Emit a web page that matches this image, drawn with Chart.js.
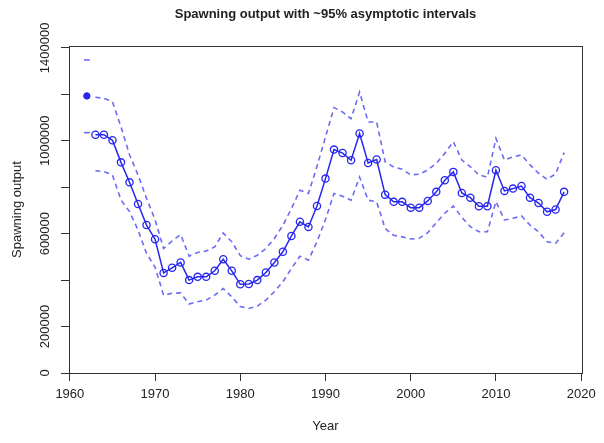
<!DOCTYPE html>
<html>
<head>
<meta charset="utf-8">
<script src="https://cdn.jsdelivr.net/npm/chart.js@4.4.1/dist/chart.umd.min.js"></script>
<style>
  html, body { margin: 0; padding: 0; background: #fff; }
  #wrap { width: 604px; height: 443px; position: relative; }
</style>
</head>
<body>
<div id="wrap"><canvas id="spawn"></canvas></div>
<script>
// Spawning output time series with ~95% asymptotic intervals

const years = [
  1963, 1964, 1965, 1966, 1967, 1968, 1969, 1970, 1971, 1972,
  1973, 1974, 1975, 1976, 1977, 1978, 1979, 1980, 1981, 1982,
  1983, 1984, 1985, 1986, 1987, 1988, 1989, 1990, 1991, 1992,
  1993, 1994, 1995, 1996, 1997, 1998, 1999, 2000, 2001, 2002,
  2003, 2004, 2005, 2006, 2007, 2008, 2009, 2010, 2011, 2012,
  2013, 2014, 2015, 2016, 2017, 2018
];

const spawnOutput = [
  1026000, 1026000, 1002000, 907000, 821000, 728000, 637000, 576000, 431000, 453000,
  476000, 400000, 414000, 414000, 440000, 490000, 440000, 382000, 383000, 400000,
  433000, 476000, 522000, 590000, 651000, 629000, 719000, 837000, 962000, 947000,
  916000, 1031000, 904000, 919000, 768000, 737000, 737000, 712000, 712000, 741000,
  780000, 830000, 866000, 775000, 755000, 718000, 718000, 873000, 784000, 794000,
  805000, 755000, 732000, 694000, 704000, 780000
];

const upperCI = [
  1187000, 1183000, 1168000, 1060000, 940000, 853000, 752000, 660000, 536000, 569000,
  596000, 503000, 519000, 525000, 543000, 603000, 565000, 505000, 490000, 507000,
  536000, 579000, 636000, 708000, 787000, 773000, 890000, 1016000, 1143000, 1124000,
  1095000, 1210000, 1081000, 1081000, 909000, 887000, 877000, 853000, 856000, 874000,
  903000, 946000, 996000, 917000, 888000, 853000, 843000, 1010000, 917000, 931000,
  939000, 896000, 860000, 834000, 857000, 949000
];

const lowerCI = [
  871000, 867000, 853000, 745000, 695000, 616000, 515000, 455000, 335000, 343000,
  345000, 297000, 307000, 314000, 335000, 364000, 328000, 286000, 278000, 288000,
  314000, 350000, 393000, 450000, 503000, 486000, 565000, 661000, 773000, 761000,
  744000, 844000, 744000, 737000, 622000, 593000, 586000, 577000, 580000, 604000,
  647000, 688000, 719000, 670000, 630000, 608000, 608000, 738000, 659000, 666000,
  676000, 637000, 608000, 565000, 558000, 604000
];

// unfished (virgin) level and its interval
const virginYear = 1962;
const virginValue = 1193000;
const virginUpper = 1348000;
const virginLower = 1035000;

const xTickValues = [1960, 1970, 1980, 1990, 2000, 2010, 2020];
const yTickValues = [0, 200000, 400000, 600000, 800000, 1000000, 1200000, 1400000];
// only every other label fits along the y axis
const yLabelValues = [0, 200000, 600000, 1000000, 1400000];

const LINE_BLUE = 'rgb(38, 38, 240)';
const CI_BLUE = 'rgba(70, 70, 245, 0.8)';
const FONT = '"Liberation Sans", Arial, sans-serif';

const toPoints = (xs, ys) => xs.map((yr, i) => ({ x: yr, y: ys[i] }));

// frame, tick labels and titles drawn in base-graphics style
const frameText = {
  id: 'frameText',
  afterDraw(chart) {
    const { ctx, chartArea: a, scales: { x, y } } = chart;
    ctx.save();
    ctx.strokeStyle = '#333';
    ctx.lineWidth = 1;
    ctx.strokeRect(Math.round(a.left) + 0.5, Math.round(a.top) + 0.5,
      Math.round(a.right - a.left), Math.round(a.bottom - a.top));

    ctx.fillStyle = '#222';
    ctx.textAlign = 'center';
    ctx.textBaseline = 'middle';
    ctx.font = '13px ' + FONT;
    x.ticks.forEach(t => {
      ctx.fillText(String(t.value), x.getPixelForValue(t.value), a.bottom + 21);
    });
    yLabelValues.forEach(v => {
      ctx.save();
      ctx.translate(a.left - 24, y.getPixelForValue(v));
      ctx.rotate(-Math.PI / 2);
      ctx.fillText(String(v), 0, 0);
      ctx.restore();
    });

    const midX = (a.left + a.right) / 2;
    ctx.fillText('Year', midX, a.bottom + 53);
    ctx.save();
    ctx.translate(17, (a.top + a.bottom) / 2);
    ctx.rotate(-Math.PI / 2);
    ctx.fillText('Spawning output', 0, 0);
    ctx.restore();

    ctx.font = 'bold 13px ' + FONT;
    ctx.fillText('Spawning output with ~95% asymptotic intervals', midX, 14);
    ctx.restore();
  }
};

const axisGrid = {
  display: true,
  drawOnChartArea: false,
  drawTicks: true,
  tickLength: 8,
  tickColor: '#333',
  lineWidth: 1
};

new Chart(document.getElementById('spawn'), {
  type: 'line',
  data: {
    datasets: [
      {
        label: 'upper',
        data: toPoints(years, upperCI),
        borderColor: CI_BLUE,
        borderWidth: 1.6,
        borderDash: [5, 4],
        pointRadius: 0,
        tension: 0
      },
      {
        label: 'lower',
        data: toPoints(years, lowerCI),
        borderColor: CI_BLUE,
        borderWidth: 1.6,
        borderDash: [5, 4],
        pointRadius: 0,
        tension: 0
      },
      {
        label: 'spawning output',
        data: toPoints(years, spawnOutput),
        borderColor: LINE_BLUE,
        borderWidth: 1.5,
        pointStyle: 'circle',
        pointRadius: 3.6,
        pointBorderWidth: 1.3,
        pointBorderColor: LINE_BLUE,
        pointBackgroundColor: 'rgba(0,0,0,0)',
        tension: 0
      },
      {
        label: 'virgin',
        data: [{ x: virginYear, y: virginValue }],
        showLine: false,
        pointStyle: 'circle',
        pointRadius: 3.2,
        pointBorderWidth: 1,
        pointBorderColor: LINE_BLUE,
        pointBackgroundColor: LINE_BLUE
      },
      {
        label: 'virgin interval',
        data: [{ x: virginYear, y: virginUpper }, { x: virginYear, y: virginLower }],
        showLine: false,
        pointStyle: 'line',
        pointRadius: 3,
        pointBorderWidth: 1.6,
        pointBorderColor: CI_BLUE
      }
    ]
  },
  options: {
    responsive: true,
    maintainAspectRatio: false,
    animation: false,
    layout: { padding: { top: 46, right: 22, left: 0, bottom: 0 } },
    plugins: {
      legend: { display: false },
      title: { display: false },
      tooltip: { enabled: false }
    },
    scales: {
      x: {
        type: 'linear',
        min: 1959.9,
        max: 2020.1,
        grid: axisGrid,
        border: { display: false },
        ticks: { display: false },
        afterBuildTicks(scale) { scale.ticks = xTickValues.map(v => ({ value: v })); },
        afterFit(scale) { scale.height = 70; }
      },
      y: {
        type: 'linear',
        min: 0,
        max: 1408000,
        grid: axisGrid,
        border: { display: false },
        ticks: { display: false },
        afterBuildTicks(scale) { scale.ticks = yTickValues.map(v => ({ value: v })); },
        afterFit(scale) { scale.width = 69; }
      }
    }
  },
  plugins: [frameText]
});
</script>
</body>
</html>
